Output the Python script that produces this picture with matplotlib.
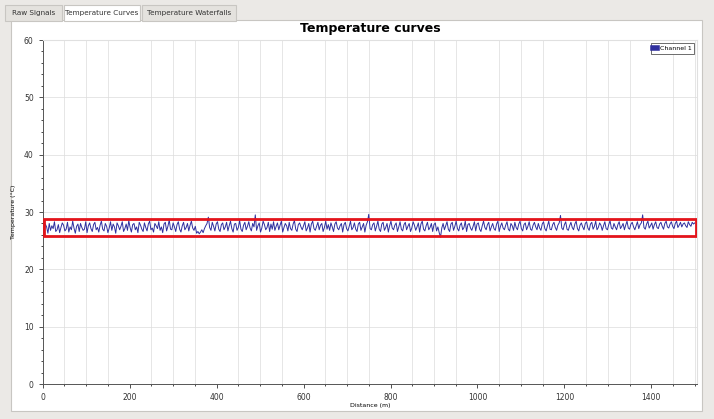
import matplotlib.pyplot as plt
import numpy as np
from matplotlib.patches import Rectangle

# Channel 1 temperature (°C), one reading every 3 m from 0 to 1500 m
step_m = 3
channel_1 = [
    27.2, 26.5, 27.9, 27.4, 26.3, 28.0, 26.8, 27.6, 27.1, 28.3, 26.6, 26.9, 27.8, 26.4, 27.3, 28.1, 27.7, 26.7, 27.0, 28.2,
    26.5, 27.4, 26.9, 28.4, 27.2, 26.3, 27.5, 27.9, 26.6, 28.0, 27.3, 26.8, 27.0, 28.3, 26.4, 27.6, 28.1, 27.1, 26.6, 27.8,
    28.2, 26.9, 27.3, 26.5, 27.7, 28.4, 27.0, 26.7, 28.0, 27.5, 26.4, 27.2, 28.3, 26.8, 27.9, 27.4, 26.3, 28.1, 27.6, 26.9,
    27.5, 28.3, 26.6, 27.1, 27.9, 26.8, 28.5, 27.3, 26.5, 27.8, 28.0, 26.9, 27.4, 26.4, 28.2, 27.7, 27.0, 26.6, 28.1, 27.3,
    26.7, 27.9, 28.4, 26.9, 27.2, 26.5, 28.0, 27.6, 27.1, 28.3, 26.8, 27.4, 26.4, 27.9, 28.2, 26.7, 27.5, 28.6, 27.0, 26.9,
    28.1, 27.4, 26.6, 27.8, 28.3, 27.0, 26.5, 27.6, 28.2, 26.9, 27.3, 28.0, 26.7, 27.7, 28.4, 27.2, 26.8, 27.5, 26.3, 26.6,
    26.2, 26.5, 26.9, 26.4, 27.1, 27.6, 28.0, 29.1, 27.3, 26.8, 28.2, 27.5, 26.7, 27.9, 28.3, 27.0, 26.6, 27.8, 28.1, 26.9,
    27.4, 28.2, 26.7, 27.6, 28.4, 27.1, 26.5, 27.9, 28.0, 26.8, 27.3, 28.5, 27.0, 26.6, 27.7, 28.2, 26.9, 27.5, 28.3, 27.2,
    26.7, 28.0, 27.4, 29.5, 26.8, 27.6, 28.1, 26.5, 27.2, 28.4, 27.8, 26.9, 27.3, 28.2, 26.6, 27.9, 27.0, 28.3, 26.8, 27.5,
    28.1, 26.9, 27.7, 28.4, 26.5, 27.3, 28.0, 27.6, 26.7, 28.2, 27.1, 26.8, 27.9, 28.5, 27.0, 26.6, 27.8, 28.1, 27.4, 26.9,
    27.6, 28.3, 26.7, 27.2, 28.0, 26.5, 27.9, 28.4, 27.1, 26.8, 27.5, 28.2, 26.9, 27.7, 28.0, 26.6, 27.3, 28.4, 27.0, 27.8,
    26.8, 28.1, 27.4, 26.6, 27.9, 28.3, 27.2, 26.9, 27.6, 28.0, 26.5, 27.8, 28.2, 27.1, 26.7, 27.5, 28.4, 26.9, 27.3, 28.1,
    27.0, 26.6, 27.9, 28.2, 26.8, 27.4, 28.0, 26.5, 27.7, 28.3, 29.6, 27.1, 26.9, 27.8, 28.1, 26.7, 27.5, 28.4, 27.0, 26.6,
    27.9, 28.2, 26.8, 27.3, 28.0, 26.5, 27.6, 28.4, 27.2, 26.9, 27.7, 28.1, 26.6, 27.4, 28.3, 27.0, 26.7, 27.8, 28.2, 26.9,
    27.5, 28.0, 26.6, 27.2, 28.3, 27.7, 26.8, 27.4, 28.1, 26.5, 27.9, 28.4, 27.0, 26.7, 27.6, 28.2, 26.9, 27.3, 28.0, 26.6,
    27.8, 28.1, 26.7, 27.4, 26.4, 25.6, 27.2, 28.0, 26.9, 27.6, 28.3, 27.0, 26.6, 27.9, 28.2, 26.8, 27.5, 28.4, 27.1, 26.7,
    27.7, 28.1, 26.9, 27.3, 28.4, 26.6, 27.8, 28.0, 27.2, 26.8, 27.5, 28.3, 26.7, 27.9, 28.1, 27.0, 26.6, 27.6, 28.4, 27.3,
    26.9, 27.8, 28.2, 26.7, 27.4, 28.0, 27.1, 26.8, 27.9, 28.4, 26.6, 27.5, 28.1, 27.2, 26.9, 27.7, 28.3, 27.0, 26.7, 28.0,
    27.6, 26.8, 28.2, 27.3, 26.9, 27.9, 28.4, 27.1, 26.7, 27.8, 28.1, 26.9, 27.5, 28.3, 27.0, 26.8, 27.7, 28.2, 27.4, 26.9,
    28.0, 27.2, 26.8, 27.9, 28.3, 27.1, 26.7, 27.6, 28.4, 27.0, 26.9, 27.8, 28.2, 27.3, 26.8, 27.7, 28.1, 29.4, 27.2, 26.9,
    27.8, 28.3, 27.0, 26.8, 27.6, 28.2, 27.3, 26.9, 27.9, 28.4, 27.1, 26.7, 27.7, 28.1, 27.4, 26.9, 28.0, 28.3, 27.2, 26.8,
    27.9, 28.2, 27.0, 27.5, 28.4, 26.9, 27.3, 28.1, 27.7, 26.8, 27.6, 28.3, 27.1, 26.9, 27.8, 28.5, 27.2, 27.0, 28.0, 27.4,
    26.9, 27.8, 28.3, 27.1, 27.5, 28.0, 26.9, 27.7, 28.4, 27.2, 27.0, 27.9, 28.2, 27.4, 26.9, 27.6, 28.3, 27.1, 27.8, 28.1,
    29.5, 27.3, 27.0, 27.9, 28.4, 27.2, 27.6, 28.1, 27.0, 27.8, 28.3, 27.3, 27.1, 27.9, 28.2, 27.5, 27.0, 28.0, 28.4, 27.4,
    27.2, 27.9, 28.3, 27.5, 27.1, 28.0, 28.4, 27.3, 27.7, 28.2, 27.4, 27.9, 28.1, 27.6, 27.3, 28.3, 27.8, 27.5, 28.2, 27.9,
    28.1,
]
distance = np.arange(len(channel_1)) * step_m

tabs = ["Raw Signals", "Temperature Curves", "Temperature Waterfalls"]
x_ticks = [0, 200, 400, 600, 800, 1000, 1200, 1400]
y_ticks = [0, 10, 20, 30, 40, 50, 60]

fig = plt.figure(figsize=(7.14, 4.19), dpi=100)
fig.patch.set_facecolor("#ebe9e6")

# white tab panel (drawn behind the axes)
fig.patches.append(Rectangle((11 / 714, 8 / 419), 691 / 714, 391 / 419,
                             transform=fig.transFigure, facecolor="white",
                             edgecolor="#c8c6c2", lw=0.8, zorder=-2))

# tab headers
tab_x = [5, 64, 142]
tab_w = [57, 76, 94]
for i, name in enumerate(tabs):
    sel = (i == 1)
    fig.patches.append(Rectangle((tab_x[i] / 714, 1 - 21 / 419), tab_w[i] / 714, 16 / 419,
                                 transform=fig.transFigure,
                                 facecolor="white" if sel else "#e4e2de",
                                 edgecolor="#c8c6c2", lw=0.8, zorder=-1))
    fig.text((tab_x[i] + tab_w[i] / 2) / 714, 1 - 13 / 419, name, ha="center", va="center",
             fontsize=5.2, color="#333333")

ax = fig.add_axes([42.7 / 714, 1 - 384 / 419, (697 - 42.7) / 714, 344 / 419])
ax.set_zorder(3)
ax.plot(distance, channel_1, color="#2f2f9e", lw=0.7, label="Channel 1")

# highlight box around the curve
ax.add_patch(Rectangle((4, 25.8), 1499, 2.9, fill=False, edgecolor="#e3141b", lw=2, zorder=5))

ax.set_xlim(0, 1505)
ax.set_ylim(0, 60)
ax.set_xticks(x_ticks)
ax.set_yticks(y_ticks)
ax.set_xticks(np.arange(0, 1501, 50), minor=True)
ax.set_yticks(np.arange(0, 61, 2), minor=True)
ax.tick_params(labelsize=5.5, colors="#333333", length=3, width=0.6)
ax.tick_params(which="minor", length=1.5, width=0.5)
ax.grid(True, which="major", axis="y", color="#dcdcdc", lw=0.5)
ax.grid(True, which="minor", axis="x", color="#dcdcdc", lw=0.5)
ax.set_axisbelow(True)
for s in ["top", "right"]:
    ax.spines[s].set_color("#e0e0e0")
for s in ["left", "bottom"]:
    ax.spines[s].set_color("#555555")
    ax.spines[s].set_linewidth(0.7)

ax.set_title("Temperature curves", fontsize=9, fontweight="bold", pad=6)
ax.set_xlabel("Distance (m)", fontsize=4.5, labelpad=1)
ax.set_ylabel("Temperature (°C)", fontsize=4.5, labelpad=6)

leg = ax.legend(loc="upper right", fontsize=4.5, handlelength=0.6, handletextpad=0.4,
                borderpad=0.4, fancybox=False, edgecolor="#555555", framealpha=1)
leg.get_frame().set_linewidth(0.6)
for h in leg.legend_handles:
    h.set_linewidth(4)

plt.savefig("out.png", dpi=100)
